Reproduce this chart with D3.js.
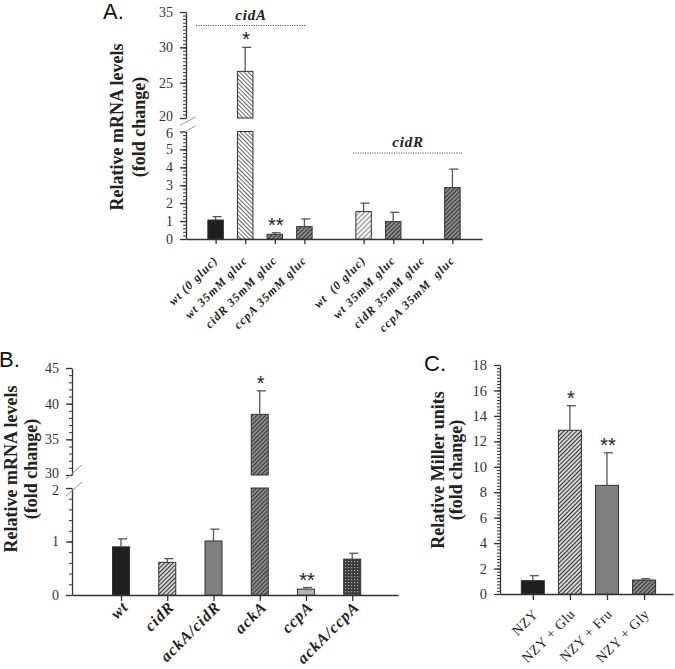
<!DOCTYPE html>
<html><head><meta charset="utf-8">
<script src="https://cdn.jsdelivr.net/npm/d3@7"></script>
<style>body{margin:0;background:#fff} svg{display:block}</style></head>
<body>
<svg id="c" width="675" height="669"></svg>
<script>
// ---------------- DATA ----------------
// Panel A
const aCategories = ["wt (0 gluc)", "wt 35mM gluc", "cidR 35mM gluc", "ccpA 35mM gluc",
                     "wt  (0 gluc)", "wt 35mM gluc", "cidR 35mM gluc", "ccpA 35mM  gluc"];
const aSlots = [0, 1, 2, 3, 5, 6, 7, 8];
const aValues = [1.06, 26.6, 0.26, 0.69, 1.53, 0.97, 0, 2.87];
const aErrors = [0.19, 3.4, 0.09, 0.43, 0.47, 0.52, 0, 1.03];
const aGenes = ["cidA", "cidR"];
const aLowTicks = [0, 1, 2, 3, 4, 5, 6];
const aHighTicks = [20, 25, 30, 35];
const aStars = ["", "*", "**", "", "", "", "", ""];
// Panel B
const bCategories = ["wt", "cidR", "ackA/cidR", "ackA", "ccpA", "ackA/ccpA"];
const bValues = [0.90, 0.61, 1.01, 38.5, 0.11, 0.67];
const bErrors = [0.15, 0.07, 0.22, 3.3, 0.03, 0.11];
const bLowTicks = [0, 1, 2];
const bHighTicks = [30, 35, 40, 45];
const bStars = ["", "", "", "*", "**", ""];
// Panel C
const cCategories = ["NZY", "NZY + Glu", "NZY + Fru", "NZY + Gly"];
const cValues = [1.05, 12.87, 8.54, 1.1];
const cErrors = [0.39, 1.93, 2.56, 0.1];
const cTicks = [0, 2, 4, 6, 8, 10, 12, 14, 16, 18];
const cStars = ["", "*", "**", ""];

// ---------------- STYLE ----------------
const serif = "'Liberation Serif','Times New Roman',serif";
const sans = "'Liberation Sans',Arial,sans-serif";
const ink = "#333";
const aFills = ["solid-dark", "url(#pLightBack)", "url(#pDark)", "url(#pDark)",
                "url(#pLight)", "url(#pDark)", "url(#pDark)", "url(#pDark)"];
const bFills = ["solid-dark", "url(#pMed)", "solid-gray", "url(#pDark)", "solid-light", "url(#pCheck)"];
const cFills = ["solid-dark", "url(#pMed)", "solid-gray", "url(#pDark)"];
const solid = {"solid-dark": "#1f1f1f", "solid-gray": "#808080", "solid-light": "#b4b4b4"};
const fillOf = f => solid[f] || f;

const svg = d3.select("#c");
const defs = svg.append("defs");
function hatch(id, bg, fg, angle, sp, sw) {
  const p = defs.append("pattern").attr("id", id).attr("patternUnits", "userSpaceOnUse")
    .attr("width", sp).attr("height", sp).attr("patternTransform", `rotate(${angle})`);
  p.append("rect").attr("width", sp).attr("height", sp).attr("fill", bg);
  p.append("line").attr("x1", sp / 2).attr("x2", sp / 2).attr("y1", 0).attr("y2", sp)
    .attr("stroke", fg).attr("stroke-width", sw);
}
hatch("pLightBack", "#fff", "#666", -45, 3, 1);
hatch("pLight", "#fff", "#777", 45, 3.5, 1);
hatch("pMed", "#e6e6e6", "#333", 45, 3, 1.2);
hatch("pDark", "#9a9a9a", "#3a3a3a", 45, 3, 1.4);
(function () {
  const p = defs.append("pattern").attr("id", "pCheck").attr("patternUnits", "userSpaceOnUse")
    .attr("width", 3).attr("height", 3);
  p.append("rect").attr("width", 3).attr("height", 3).attr("fill", "#3a3a3a");
  p.append("rect").attr("width", 1.2).attr("height", 1.2).attr("fill", "#aaa");
})();

// ---------------- HELPERS ----------------
function styleAxis(g, fs) {
  g.selectAll("path,line").attr("stroke", ink).attr("stroke-width", 1.3);
  g.selectAll("text").attr("font-family", serif).attr("font-size", fs).attr("fill", ink);
}
// edgeShift: vertical nudge of the label at the segment edge next to the axis break
function yAxis(x0, scale, major, minorStep, fs, edgeVal, edgeShift) {
  const g = svg.append("g").attr("transform", `translate(${x0},0)`);
  g.call(d3.axisLeft(scale).tickValues(major).tickSize(6).tickSizeOuter(0).tickPadding(7)
    .tickFormat(d3.format("d")));
  styleAxis(g, fs);
  if (edgeVal !== undefined) {
    g.selectAll(".tick").filter(d => d === edgeVal).select("text")
      .attr("transform", `translate(0,${edgeShift})`);
  }
  const d = scale.domain();
  const minor = d3.range(d[0], d[1] + 1e-6, minorStep);
  const m = svg.append("g").attr("transform", `translate(${x0},0)`);
  m.call(d3.axisLeft(scale).tickValues(minor).tickSize(3).tickFormat(""));
  m.select(".domain").remove();
  m.selectAll("line").attr("stroke", ink).attr("stroke-width", 1);
}
function breakMarks(x0, yA, yB, dx, dy) {
  [yA, yB].forEach(y => {
    svg.append("line").attr("x1", x0 - dx / 2 + 2).attr("x2", x0 + dx / 2 + 2)
      .attr("y1", y + dy / 2).attr("y2", y - dy / 2)
      .attr("stroke", "#999").attr("stroke-width", 1);
  });
}
function xAxis(y0, scale, slots, tickLen) {
  const g = svg.append("g").attr("transform", `translate(0,${y0})`);
  g.call(d3.axisBottom(scale).tickValues(slots).tickSize(tickLen).tickSizeOuter(0).tickFormat(""));
  styleAxis(g, 10);
}
function bars(xs, slots, values, errors, fills, bw, yLow, yHigh, lowMax, highMin, stars) {
  values.forEach((v, i) => {
    const cx = xs(slots[i]);
    const f = fillOf(fills[i]);
    const rect = (y1, y2) => svg.append("rect").attr("x", cx - bw / 2).attr("y", y1)
      .attr("width", bw).attr("height", Math.max(0, y2 - y1))
      .attr("fill", f).attr("stroke", ink).attr("stroke-width", 1);
    if (v <= 0) return;
    let topY;
    if (yHigh && v > lowMax) {
      rect(yLow(lowMax), yLow(0));
      rect(yHigh(v), yHigh(highMin));
      topY = yHigh(v);
    } else {
      rect(yLow(v), yLow(0));
      topY = yLow(v);
    }
    const t = v + errors[i];
    const ys = (yHigh && t > lowMax) ? yHigh : yLow;
    const ey = ys(t);
    svg.append("line").attr("x1", cx).attr("x2", cx).attr("y1", topY).attr("y2", ey)
      .attr("stroke", "#555").attr("stroke-width", 1.3);
    svg.append("line").attr("x1", cx - 3).attr("x2", cx + 6).attr("y1", ey).attr("y2", ey)
      .attr("stroke", "#555").attr("stroke-width", 1.3);
    if (stars && stars[i]) {
      svg.append("text").attr("x", cx + 1).attr("y", ey - 1).attr("text-anchor", "middle")
        .attr("font-family", sans).attr("font-size", 20).attr("fill", "#222").text(stars[i]);
    }
  });
}
function xLabels(xs, slots, labels, y0, dx, dy, fs, style, weight, ls) {
  labels.forEach((lab, i) => {
    const x = xs(slots[i]) + dx, y = y0 + dy;
    svg.append("text").attr("transform", `translate(${x},${y}) rotate(-45)`)
      .attr("text-anchor", "end").attr("font-family", serif).attr("font-size", fs)
      .attr("font-style", style).attr("font-weight", weight).attr("letter-spacing", ls)
      .attr("fill", "#222").attr("xml:space", "preserve").style("white-space", "pre").text(lab);
  });
}
function yTitle(x1, x2, yc, l1, l2) {
  [[x1, l1], [x2, l2]].forEach(([x, t]) => {
    svg.append("text").attr("transform", `translate(${x},${yc}) rotate(-90)`)
      .attr("text-anchor", "middle").attr("font-family", serif).attr("font-weight", "bold")
      .attr("font-size", 18).attr("fill", "#222").text(t);
  });
}
function panelLetter(x, y, t) {
  svg.append("text").attr("x", x).attr("y", y).attr("font-family", sans)
    .attr("font-size", 22).attr("fill", "#111").text(t);
}

// ---------------- PANEL A ----------------
const axA = 186, y0A = 239;
const xA = d3.scaleLinear().domain([-1, 9]).range([axA, 482]);
const yALow = d3.scaleLinear().domain([0, 6]).range([y0A, 131.5]);
const yAHigh = d3.scaleLinear().domain([20, 35]).range([118, 12]);
yAxis(axA, yALow, aLowTicks, 0.2, 14, 6, 1.5);
yAxis(axA, yAHigh, aHighTicks, 0.5, 14, 20, -1.5);
breakMarks(axA, 121, 130, 15, 8);
xAxis(y0A, xA, aSlots, 5);
bars(xA, aSlots, aValues, aErrors, aFills, 15.5, yALow, yAHigh, 6, 20, aStars);
xLabels(xA, aSlots, aCategories, y0A, 3, 22, 12, "italic", "bold", 1);
// gene group labels with dotted lines
const geneLineOff = [[-19.6, 1.6], [-10.6, 10.6]];
[[0, 3], [5, 8]].forEach(([s, e], k) => {
  const x1 = xA(s) + geneLineOff[k][0], x2 = xA(e) + geneLineOff[k][1];
  const ly = k === 0 ? 25.5 : 153;
  svg.append("line").attr("x1", x1).attr("x2", x2).attr("y1", ly).attr("y2", ly)
    .attr("stroke", "#555").attr("stroke-width", 1.2).attr("stroke-dasharray", "1.2,1.2");
  svg.append("text").attr("x", (x1 + x2) / 2).attr("y", ly - 6).attr("text-anchor", "middle")
    .attr("font-family", serif).attr("font-style", "italic").attr("font-weight", "bold")
    .attr("font-size", 15).attr("letter-spacing", 0.8).attr("fill", "#222").text(aGenes[k]);
});
yTitle(123, 145, 127, "Relative mRNA levels", "(fold change)");
panelLetter(103, 19, "A.");

// ---------------- PANEL B ----------------
const axB = 72, y0B = 595;
const xB = d3.scaleLinear().domain([-1.06, 5.99]).range([axB, 398]);
const yBLow = d3.scaleLinear().domain([0, 2]).range([y0B, 488]);
const yBHigh = d3.scaleLinear().domain([30, 45]).range([475, 368]);
const bSlots = bCategories.map((d, i) => i);
yAxis(axB, yBLow, bLowTicks, 0.2, 14, 2, 2);
yAxis(axB, yBHigh, bHighTicks, 1, 14, 30, -2);
breakMarks(axB, 472, 489, 16, 14);
xAxis(y0B, xB, bSlots, 6);
bars(xB, bSlots, bValues, bErrors, bFills, 17, yBLow, yBHigh, 2, 30, bStars);
xLabels(xB, bSlots, bCategories, y0B, 8, 13, 16, "italic", "bold", 1);
yTitle(17, 37, 469, "Relative mRNA levels", "(fold change)");
panelLetter(-1, 367, "B.");

// ---------------- PANEL C ----------------
const axC = 500, y0C = 594;
const xC = d3.scaleLinear().domain([-0.885, 3.78]).range([axC, 673]);
const yC = d3.scaleLinear().domain([0, 18]).range([y0C, 365]);
const cSlots = cCategories.map((d, i) => i);
yAxis(axC, yC, cTicks, 0.25, 14.5);
xAxis(y0C, xC, cSlots, 6);
bars(xC, cSlots, cValues, cErrors, cFills, 23, yC, null, 18, 0, cStars);
xLabels(xC, cSlots, cCategories, y0C, 6, 21, 14, "normal", "normal", 0.5);
yTitle(444, 462, 470, "Relative Miller units", "(fold change)");
panelLetter(424, 371, "C.");
</script>
</body></html>
